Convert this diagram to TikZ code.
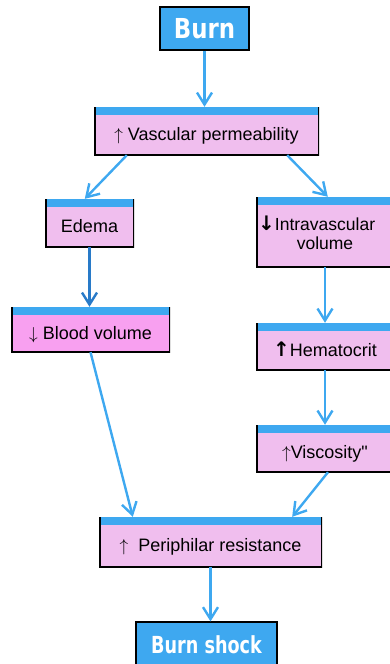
\documentclass[tikz,border=0pt]{standalone}
\usepackage{fontspec}
\setmainfont{Liberation Sans}
\newfontfamily\headfont{DejaVu Sans}
\usepackage[table]{xcolor}
\usepackage{tikz}
\usetikzlibrary{arrows.meta}

\definecolor{burnblue}{RGB}{62,168,240}
\definecolor{causepink}{RGB}{240,190,238}
\definecolor{bloodpink}{RGB}{248,160,240}
\definecolor{darkarrow}{RGB}{40,122,200}

\newcommand{\up}{$\uparrow$}
\newcommand{\down}{$\downarrow$}
\newcommand{\boldup}{{\headfont\bfseries\fontsize{20}{20}\selectfont ↑}}
\newcommand{\bolddown}{{\headfont\bfseries\fontsize{20}{20}\selectfont ↓}}

\tikzset{
  head/.style={rectangle, fill=burnblue, draw=black, line width=1.2pt, text=white, inner sep=0pt},
  cause/.style={rectangle, fill=causepink, draw=none, inner sep=0pt,
    font=\fontsize{18}{19}\selectfont, text height=21pt, text depth=2pt,
    path picture={
      \fill[burnblue] (path picture bounding box.north west) rectangle ([yshift=-8pt]path picture bounding box.north east);
      \draw[black, line width=3pt] (path picture bounding box.north west) -- (path picture bounding box.south west)
        -- (path picture bounding box.south east) -- (path picture bounding box.north east);}},
  flow/.style={draw=burnblue, line width=2.4pt, -{Straight Barb[length=12pt,width=15pt]}},
}

\begin{document}
\begin{tikzpicture}[x=1pt,y=-1pt]
		\useasboundingbox (0,0) rectangle (390,664);
		\node[head, minimum width=89pt, minimum height=43pt,
			font=\headfont\bfseries\fontsize{27.5}{30}\selectfont\addfontfeature{FakeStretch=0.83}] (burn) at (204.50,28.50) {Burn};
		\node[cause, minimum width=225pt, minimum height=48pt] (perm) at (206.50,131.00) {\up\ Vascular permeability};
		\node[cause, minimum width=89pt, minimum height=48pt] (edema) at (89.50,223.00) {Edema};
		\node[cause, minimum width=138pt, minimum height=70pt, align=center, text height=36pt,
			font=\fontsize{17.5}{19}\selectfont] (intra) at (325.00,232.00) {\llap{\bolddown}Intravascular\\volume};
		\node[cause, fill=bloodpink, minimum width=159pt, minimum height=45pt] (blood) at (90.50,329.50) {\down\ Blood volume};
		\node[cause, minimum width=138pt, minimum height=47pt] (hemat) at (325.00,346.50) {\boldup Hematocrit};
		\node[cause, minimum width=138pt, minimum height=47pt] (visc) at (325.00,448.50) {\up Viscosity\textquotedbl};
		\node[cause, minimum width=223pt, minimum height=50pt] (resist) at (210.50,542.00) {\up\ \ Periphilar resistance};
		\node[head, minimum width=141pt, minimum height=46pt,
			font=\headfont\bfseries\fontsize{23.5}{26}\selectfont\addfontfeature{FakeStretch=0.75}] (shock) at (206.50,645.00) {Burn shock};
		\draw[flow] (burn.south) -- (burn.south |- perm.north);
		\draw[flow] ([xshift=33pt]perm.south west) -- ([xshift=40pt]edema.north west);
		\draw[flow] ([xshift=-32pt]perm.south east) -- ([xshift=72pt]intra.north west);
		\draw[flow, draw=darkarrow] (edema.south) -- (edema.south |- blood.north);
		\draw[flow] (intra.south) -- (hemat.north);
		\draw[flow] (hemat.south) -- (visc.north);
		\draw[flow] (blood.south) -- ([xshift=34pt]resist.north west);
		\draw[flow] ([xshift=3pt]visc.south) -- ([xshift=-30pt]resist.north east);
		\draw[flow] (resist.south) -- (resist.south |- shock.north);
	\end{tikzpicture}
\end{document}
